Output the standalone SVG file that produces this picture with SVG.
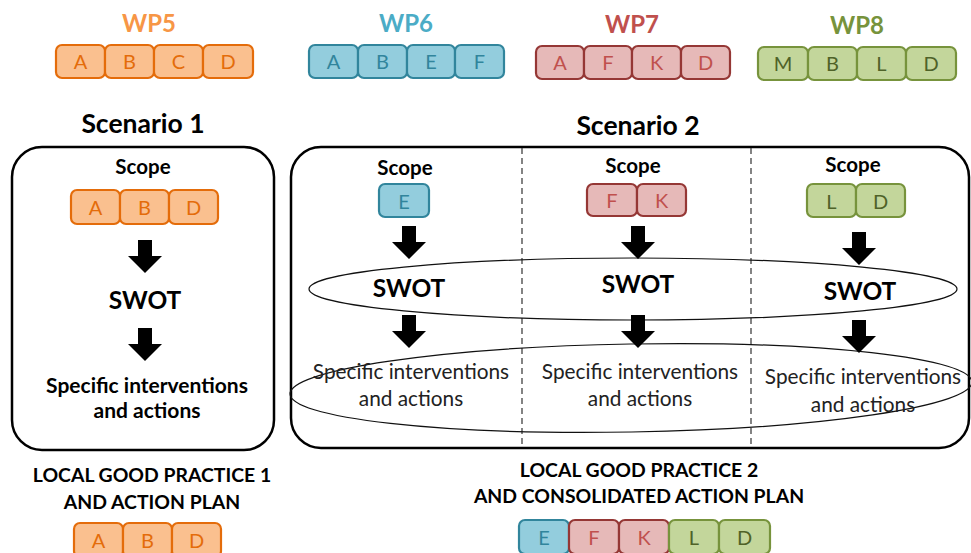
<svg xmlns="http://www.w3.org/2000/svg" width="971" height="553" viewBox="0 0 971 553">
  <style>
    text { font-family: Lato, "Open Sans", "Liberation Sans", sans-serif; text-anchor: middle; }
    .wp { font-size: 24px; font-weight: bold; }
    .title { font-size: 26.5px; font-weight: bold; fill: #000; }
    .scope { font-size: 20.5px; font-weight: bold; fill: #000; }
    .swot { font-size: 24.5px; font-weight: bold; fill: #000; }
    .act-b { font-size: 21px; font-weight: bold; fill: #000; }
    .act { font-size: 20.8px; fill: #222; }
    .lgp { font-size: 19.4px; font-weight: bold; fill: #000; }
    .let { font-size: 20px; }
    .cell { stroke-width: 2.2; }
    .or rect { fill: #FAC08F; stroke: #E46C0A; }
    .or text { fill: #E46C0A; }
    .bl rect { fill: #93CDDD; stroke: #31859C; }
    .bl text { fill: #31859C; }
    .rd rect { fill: #E6B9B8; stroke: #953735; }
    .rd text { fill: #C0504D; }
    .gr rect { fill: #C3D69B; stroke: #77933C; }
    .gr text { fill: #4F6228; }
    .frame { fill: none; stroke: #000; stroke-width: 2.5; }
    .ring { fill: none; stroke: #111; stroke-width: 1.2; }
    .divider { stroke: #333; stroke-width: 1.2; stroke-dasharray: 6 4; }
  </style>
  <defs>
    <!-- block arrow pointing down, origin at top centre -->
    <path id="down" d="M-7,0 H7 V16 H17 L0,33 L-17,16 H-7 Z" fill="#000"/>
  </defs>

  <!-- work package headers -->
  <g id="wp5">
    <text class="wp" x="149" y="32" fill="#F79646">WP5</text>
    <g class="or">
      <rect class="cell" x="56" y="45" width="49" height="33" rx="6"/>
      <rect class="cell" x="105" y="45" width="49" height="33" rx="6"/>
      <rect class="cell" x="154" y="45" width="49" height="33" rx="6"/>
      <rect class="cell" x="203" y="45" width="50" height="33" rx="6"/>
      <text class="let" x="80.5" y="69">A</text>
      <text class="let" x="129.5" y="69">B</text>
      <text class="let" x="178.5" y="69">C</text>
      <text class="let" x="228" y="69">D</text>
    </g>
  </g>
  <g id="wp6">
    <text class="wp" x="406" y="32" fill="#4BACC6">WP6</text>
    <g class="bl">
      <rect class="cell" x="309" y="45" width="49" height="33" rx="6"/>
      <rect class="cell" x="358" y="45" width="49" height="33" rx="6"/>
      <rect class="cell" x="407" y="45" width="48" height="33" rx="6"/>
      <rect class="cell" x="455" y="45" width="49" height="33" rx="6"/>
      <text class="let" x="333.5" y="69">A</text>
      <text class="let" x="382.5" y="69">B</text>
      <text class="let" x="431" y="69">E</text>
      <text class="let" x="479.5" y="69">F</text>
    </g>
  </g>
  <g id="wp7">
    <text class="wp" x="632" y="33" fill="#C0504D">WP7</text>
    <g class="rd">
      <rect class="cell" x="536" y="46" width="48" height="33" rx="6"/>
      <rect class="cell" x="584" y="46" width="48" height="33" rx="6"/>
      <rect class="cell" x="632" y="46" width="49" height="33" rx="6"/>
      <rect class="cell" x="681" y="46" width="49" height="33" rx="6"/>
      <text class="let" x="560" y="70">A</text>
      <text class="let" x="608" y="70">F</text>
      <text class="let" x="656.5" y="70">K</text>
      <text class="let" x="705.5" y="70">D</text>
    </g>
  </g>
  <g id="wp8">
    <text class="wp" x="857" y="34" fill="#77933C">WP8</text>
    <g class="gr">
      <rect class="cell" x="758" y="47" width="50" height="33" rx="6"/>
      <rect class="cell" x="808" y="47" width="49" height="33" rx="6"/>
      <rect class="cell" x="857" y="47" width="49" height="33" rx="6"/>
      <rect class="cell" x="906" y="47" width="50" height="33" rx="6"/>
      <text class="let" x="783" y="71">M</text>
      <text class="let" x="832.5" y="71">B</text>
      <text class="let" x="881.5" y="71">L</text>
      <text class="let" x="931" y="71">D</text>
    </g>
  </g>

  <!-- scenario 1 -->
  <g id="scenario1">
    <text class="title" x="143" y="133">Scenario 1</text>
    <rect class="frame" x="12" y="147" width="262" height="303" rx="30"/>
    <text class="scope" x="143" y="174">Scope</text>
    <g class="or">
      <rect class="cell" x="71" y="190" width="49" height="34" rx="6"/>
      <rect class="cell" x="120" y="190" width="49" height="34" rx="6"/>
      <rect class="cell" x="169" y="190" width="49" height="34" rx="6"/>
      <text class="let" x="95.5" y="215">A</text>
      <text class="let" x="144.5" y="215">B</text>
      <text class="let" x="193.5" y="215">D</text>
    </g>
    <text class="swot" x="145" y="309">SWOT</text>
    <text class="act-b" x="147" y="393">Specific interventions</text>
    <text class="act-b" x="147" y="418">and actions</text>
  </g>

  <!-- scenario 2 -->
  <g id="scenario2">
    <text class="title" x="638" y="135">Scenario 2</text>
    <rect class="frame" x="291" y="147" width="678" height="301" rx="30"/>
    <line class="divider" x1="522" y1="148" x2="522" y2="447"/>
    <line class="divider" x1="751" y1="148" x2="751" y2="447"/>
    <ellipse class="ring" cx="633" cy="289" rx="324" ry="31"/>
    <ellipse class="ring" cx="631" cy="388" rx="341" ry="44" transform="rotate(-1 631 388)"/>

    <g id="col-e">
      <text class="scope" x="405" y="175">Scope</text>
      <g class="bl">
        <rect class="cell" x="379" y="184" width="50" height="33" rx="6"/>
        <text class="let" x="404" y="209">E</text>
      </g>
      <text class="swot" x="409" y="297">SWOT</text>
      <text class="act" x="411" y="379">Specific interventions</text>
      <text class="act" x="411" y="406">and actions</text>
    </g>
    <g id="col-fk">
      <text class="scope" x="633" y="173">Scope</text>
      <g class="rd">
        <rect class="cell" x="587" y="184" width="50" height="32" rx="6"/>
        <rect class="cell" x="637" y="184" width="49" height="32" rx="6"/>
        <text class="let" x="612" y="208">F</text>
        <text class="let" x="661.5" y="208">K</text>
      </g>
      <text class="swot" x="638" y="293">SWOT</text>
      <text class="act" x="640" y="379">Specific interventions</text>
      <text class="act" x="640" y="406">and actions</text>
    </g>
    <g id="col-ld">
      <text class="scope" x="853" y="172">Scope</text>
      <g class="gr">
        <rect class="cell" x="807" y="184" width="49" height="33" rx="6"/>
        <rect class="cell" x="856" y="184" width="49" height="33" rx="6"/>
        <text class="let" x="831.5" y="209">L</text>
        <text class="let" x="880.5" y="209">D</text>
      </g>
      <text class="swot" x="860" y="300">SWOT</text>
      <text class="act" x="863" y="384">Specific interventions</text>
      <text class="act" x="863" y="412">and actions</text>
    </g>
  </g>

  <!-- flow arrows -->
  <g id="connectors">
    <use href="#down" x="145" y="240"/>
    <use href="#down" x="145" y="328"/>
    <use href="#down" x="409" y="226"/>
    <use href="#down" x="409" y="315"/>
    <use href="#down" x="638" y="226"/>
    <use href="#down" x="638" y="315"/>
    <use href="#down" x="859" y="232"/>
    <use href="#down" x="859" y="320"/>
  </g>

  <!-- outcomes -->
  <g id="outcome1">
    <text class="lgp" x="152" y="482">LOCAL GOOD PRACTICE 1</text>
    <text class="lgp" x="152" y="509">AND ACTION PLAN</text>
    <g class="or">
      <rect class="cell" x="74" y="523" width="49" height="34" rx="6"/>
      <rect class="cell" x="123" y="523" width="49" height="34" rx="6"/>
      <rect class="cell" x="172" y="523" width="49" height="34" rx="6"/>
      <text class="let" x="98.5" y="548">A</text>
      <text class="let" x="147.5" y="548">B</text>
      <text class="let" x="196.5" y="548">D</text>
    </g>
  </g>
  <g id="outcome2">
    <text class="lgp" x="639" y="477">LOCAL GOOD PRACTICE 2</text>
    <text class="lgp" x="639" y="503">AND CONSOLIDATED ACTION PLAN</text>
    <g class="bl">
      <rect class="cell" x="519" y="520" width="50" height="34" rx="6"/>
      <text class="let" x="544" y="545">E</text>
    </g>
    <g class="rd">
      <rect class="cell" x="569" y="520" width="50" height="34" rx="6"/>
      <rect class="cell" x="619" y="520" width="50" height="34" rx="6"/>
      <text class="let" x="594" y="545">F</text>
      <text class="let" x="644" y="545">K</text>
    </g>
    <g class="gr">
      <rect class="cell" x="669" y="520" width="50" height="34" rx="6"/>
      <rect class="cell" x="719" y="520" width="51" height="34" rx="6"/>
      <text class="let" x="694" y="545">L</text>
      <text class="let" x="744.5" y="545">D</text>
    </g>
  </g>
</svg>
